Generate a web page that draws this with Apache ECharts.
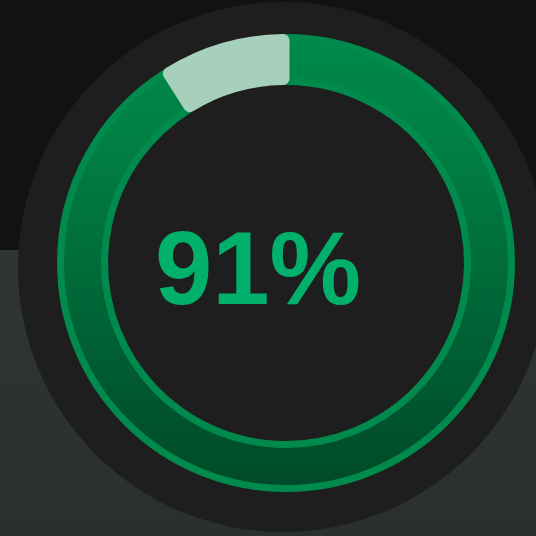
<!DOCTYPE html>
<html>
<head>
<meta charset="utf-8">
<script src="https://cdn.jsdelivr.net/npm/echarts@6/dist/echarts.min.js"></script>
<style>
    html, body { margin: 0; padding: 0; background: #121212; }
    #main { width: 536px; height: 536px; }
</style>
</head>
<body>
<div id="main"></div>
<script>
    // 完成率
    var names = ['完成', '剩余'];
    var values = [91, 9];
    var percentText = values[0] + '%';

    var myChart = echarts.init(document.getElementById('main'));

    var option = {
        backgroundColor: '#121212',
        graphic: [
            // 背景下半部分
            {
                type: 'rect',
                z: -10,
                shape: { x: 0, y: 250, width: 536, height: 286 },
                style: {
                    fill: new echarts.graphic.LinearGradient(0, 0, 0, 1, [
                        { offset: 0, color: '#2f3632' },
                        { offset: 1, color: '#2a302c' }
                    ])
                }
            },
            // 深色圆底
            {
                type: 'circle',
                z: -5,
                shape: { cx: 283, cy: 267, r: 265 },
                style: { fill: '#1e1e1e' }
            },
            {
                type: 'text',
                z: 10,
                x: 258,
                y: 276,
                style: {
                    text: percentText,
                    fill: '#00b06b',
                    font: 'bold 103px "Liberation Sans", Arial, sans-serif',
                    align: 'center',
                    verticalAlign: 'middle'
                }
            }
        ],
        series: [{
            name: '完成率',
            type: 'pie',
            center: [286, 263],
            radius: [181.5, 225.5],
            startAngle: 90,
            clockwise: true,
            silent: true,
            label: { show: false },
            labelLine: { show: false },
            data: [{
                    value: values[0],
                    name: names[0],
                    itemStyle: {
                        color: new echarts.graphic.LinearGradient(0, 0, 0, 1, [
                            { offset: 0, color: '#00884b' },
                            { offset: 0.22, color: '#008045' },
                            { offset: 0.5, color: '#006d3a' },
                            { offset: 0.8, color: '#005630' },
                            { offset: 1, color: '#004a28' }
                        ]),
                        borderColor: '#008b4d',
                        borderWidth: 7
                    }
                },
                {
                    value: values[1],
                    name: names[1],
                    itemStyle: {
                        color: '#a6d0bb',
                        borderColor: '#a6d0bb',
                        borderWidth: 7,
                        borderRadius: 3
                    }
                }
            ]
        }]
    };
    myChart.setOption(option);
</script>
</body>
</html>
